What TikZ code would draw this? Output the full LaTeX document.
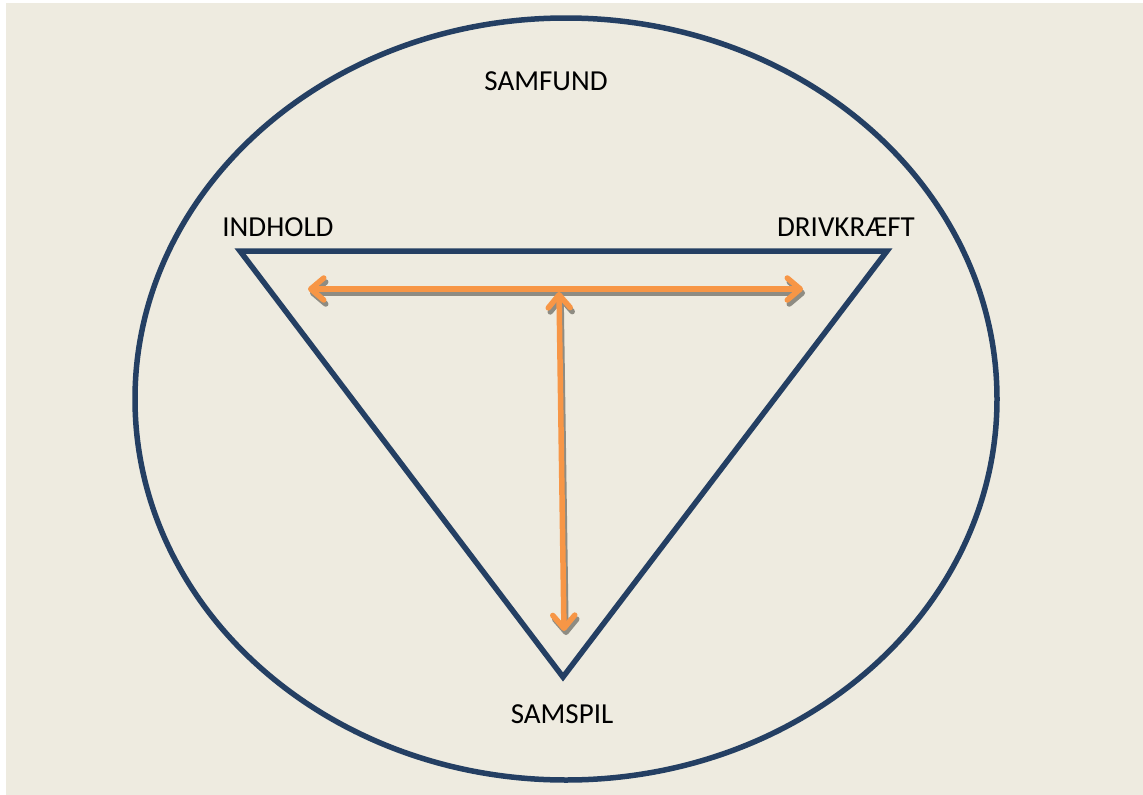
\documentclass[tikz,border=0pt]{standalone}
\usepackage{fontspec}
\setmainfont{Carlito}
\usetikzlibrary{arrows.meta}
\definecolor{bgbeige}{HTML}{EEEBE0}
\definecolor{navy}{HTML}{243F63}
\definecolor{orangeline}{HTML}{F79646}
\definecolor{shadowgray}{HTML}{8E8C83}
\tikzset{
  lbl/.style={font=\fontsize{29}{33}\selectfont, text=black, inner sep=0pt},
  outline/.style={draw=navy, line width=5.5pt, line join=miter},
  dtip/.style={{Straight Barb[length=13pt,width=22pt,line cap=round,line join=round]}-{Straight Barb[length=13pt,width=22pt,line cap=round,line join=round]}},
  arrowline/.style={draw=orangeline, line width=5.5pt, line cap=round},
  shadowline/.style={draw=shadowgray, line width=5.5pt, line cap=round},
  sh/.style={shift={(2,4)}},
}
\begin{document}
\begin{tikzpicture}[x=1pt,y=-1pt]
\useasboundingbox (0,0) rectangle (1143,795);
\fill[white] (0,0) rectangle (1143,795);
\fill[bgbeige] (6,3) rectangle (1143,795);
% society ellipse
\draw[outline] (566,399) ellipse [x radius=431, y radius=381];
% triangle
\coordinate (tl) at (240,251);
\coordinate (tr) at (887,251);
\coordinate (bt) at (563,677);
\draw[outline] (tl) -- (tr) -- (bt) -- cycle;
% arrow anchor points
\coordinate (al) at (308,289);
\coordinate (ar) at (803,289);
\coordinate (vt) at (559,292);
\coordinate (vb) at (564,631);
% shadows
\draw[shadowline, dtip] ([sh]al) -- ([sh]ar);
\draw[shadowline, dtip] ([sh]vt) -- ([sh]vb);
% arrows
\draw[arrowline, dtip] (al) -- (ar);
\draw[arrowline, dtip] (vt) -- (vb);
% labels
\node[lbl] (samfund) at (546,81) {SAMFUND};
\node[lbl] (indhold) at (278,227) {INDHOLD};
\node[lbl] (drivkraeft) at (846,227) {DRIVKRÆFT};
\node[lbl] (samspil) at (562,714) {SAMSPIL};
\end{tikzpicture}
\end{document}
